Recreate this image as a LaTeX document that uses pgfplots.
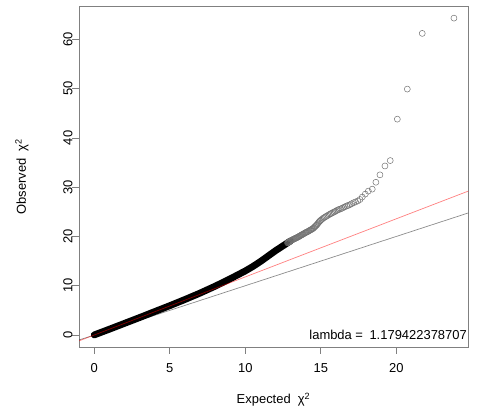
\documentclass[border=0pt]{standalone}
\usepackage{fontspec}
\setmainfont{Liberation Sans}
\usepackage{pgfplots}
\pgfplotsset{compat=1.18}
\newcommand\rfont{\fontsize{13}{15.6}\selectfont}
\begin{document}
\begin{tikzpicture}
\useasboundingbox (0,0) rectangle (478bp,414bp);
\begin{axis}[
    at={(79bp,67bp)}, anchor=south west,
    width=389bp, height=341bp, scale only axis,
    xmin=-1.01, xmax=24.75, ymin=-2.43, ymax=66.76,
    xtick={0,5,10,15,20}, ytick={0,10,20,30,40,50,60},
    xtick pos=bottom, ytick pos=left,
    tick align=outside, major tick length=7bp,
    axis line style={black!50, line width=0.75bp},
    every tick/.style={black!50, line width=0.75bp},
    /pgf/number format/assume math mode=true,
    ticklabel style={font=\rfont},
    yticklabel style={rotate=90, anchor=south},
    yticklabel shift=-4bp,
    xticklabel shift=6bp,
    clip=true,
]
% dense part of the QQ cloud (overlapping circles read as a solid band)
\addplot[black, line width=6.8bp, line cap=round, line join=round] coordinates {
 (0,0.02) (1,1.18) (2,2.36) (3,3.54) (4,4.75) (5,5.95) (6,7.2) (7,8.5)
 (8,9.9) (9,11.4) (10,13.0) (10.5,13.9) (11,14.9) (11.5,16.0) (12,17.1)
 (12.5,18.1) (13,19.1)
};
% sparse tail, single points
\addplot[only marks, mark=o, mark size=3bp,
         mark options={draw=black!55, line width=0.5bp}] coordinates {
 (12.8,18.7) (12.84,18.78) (12.88,18.86) (12.92,18.94) (12.96,19.02)
 (13.0,19.1) (13.04,19.18) (13.08,19.26) (13.12,19.32) (13.16,19.38) (13.2,19.45)
 (13.24,19.5) (13.28,19.56) (13.32,19.62) (13.36,19.67) (13.4,19.75) (13.44,19.8)
 (13.48,19.86) (13.52,19.94) (13.56,20.0) (13.6,20.08) (13.64,20.16) (13.68,20.22)
 (13.72,20.28) (13.76,20.36) (13.8,20.45) (13.85,20.5)
 (13.9,20.6) (13.95,20.7) (14.0,20.8) (14.05,20.85) (14.1,20.95) (14.15,21.0)
 (14.2,21.1) (14.25,21.2) (14.3,21.3) (14.35,21.35) (14.4,21.45) (14.45,21.55)
 (14.5,21.65) (14.55,21.8) (14.6,21.95) (14.65,22.1) (14.7,22.25) (14.75,22.4)
 (14.8,22.6) (14.85,22.8) (14.9,23.0) (14.95,23.15) (15.0,23.3)
 (15.08,23.5) (15.16,23.7) (15.24,23.85) (15.32,24.0) (15.4,24.15) (15.48,24.3)
 (15.56,24.45) (15.64,24.6) (15.72,24.7) (15.8,24.85) (15.88,24.95) (15.96,25.1)
 (16.05,25.25) (16.14,25.4) (16.23,25.5) (16.32,25.6) (16.42,25.75) (16.52,25.9)
 (16.62,26.05) (16.72,26.2) (16.82,26.3) (16.93,26.45) (17.05,26.65) (17.18,26.85)
 (17.3,27.0) (17.45,27.2) (17.6,27.5) (17.75,28.0) (17.95,28.6) (18.15,29.2)
 (18.41,29.6) (18.65,31.0) (18.92,32.5) (19.25,34.3) (19.6,35.4) (20.07,43.8)
 (20.73,49.9) (21.72,61.2) (23.82,64.3)
};
% y = x
\addplot[black, opacity=0.45, line width=0.7bp] coordinates {(-2,-2) (26,26)};
% y = lambda x
\addplot[red, opacity=0.5, line width=0.7bp] coordinates {(-2,-2.358844) (26,30.654982)};
\end{axis}
\node[font=\rfont, anchor=base east, inner sep=0pt] at (467bp,74bp)
  {lambda =\hspace{6.5bp}1.179422378707};
\node[font=\rfont] at (273.5bp,14bp) {Expected\ \ χ\textsuperscript{2}};
\node[font=\rfont, rotate=90] at (22bp,237.5bp) {Observed\ \ χ\textsuperscript{2}};
\end{tikzpicture}
\end{document}
